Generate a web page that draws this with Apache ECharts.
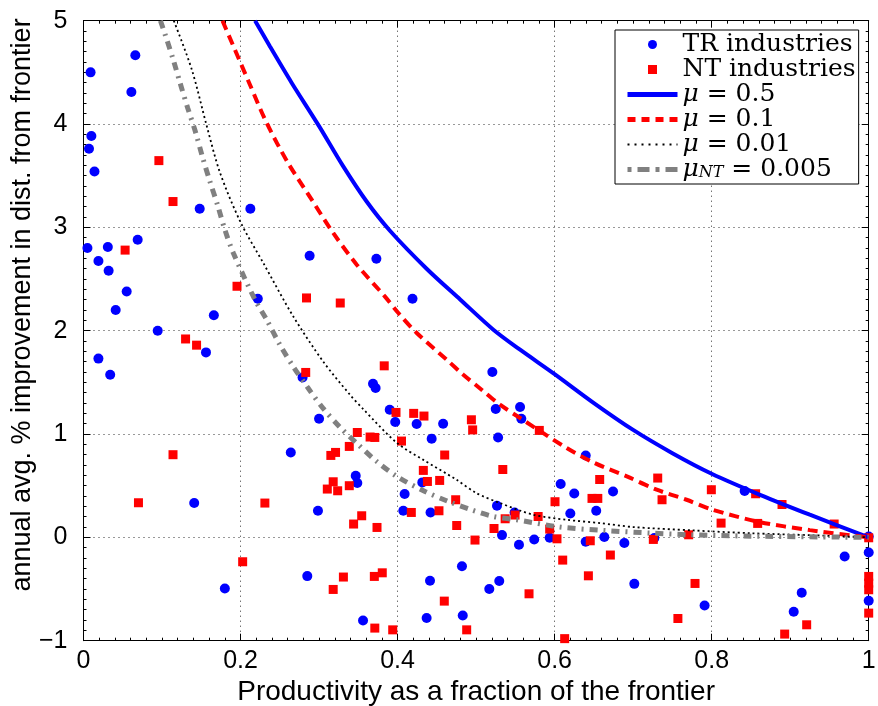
<!DOCTYPE html>
<html>
<head>
<meta charset="utf-8">
<script src="https://cdn.jsdelivr.net/npm/echarts@6/dist/echarts.min.js"></script>
<style>
  html, body { margin: 0; padding: 0; background: #fff; }
  #main { width: 878px; height: 706px; }
</style>
</head>
<body>
<div id="main"></div>
<script>
// TR industries (blue dots)
var trX = [0.009, 0.066, 0.061, 0.010, 0.007, 0.014, 0.148, 0.2125, 0.005, 0.031, 0.069, 0.019, 0.032, 0.055, 0.041, 0.166, 0.0945, 0.222, 0.019, 0.034,
           0.156, 0.141, 0.180, 0.288, 0.373, 0.419, 0.3687, 0.372, 0.279, 0.390, 0.397, 0.4243, 0.458, 0.4434, 0.300, 0.264, 0.3467, 0.3487, 0.4315, 0.409,
           0.2986, 0.4073, 0.442, 0.285, 0.4413, 0.482, 0.356, 0.437, 0.483, 0.5207, 0.525, 0.556, 0.5576, 0.528, 0.6396, 0.6077, 0.625, 0.6744, 0.62, 0.653,
           0.5266, 0.549, 0.533, 0.5546, 0.574, 0.5937, 0.6396, 0.6633, 0.6888, 0.727, 0.7015, 0.5168, 0.5295, 0.842, 1.0, 0.9694, 1.0, 1.0, 0.9147, 0.9045, 0.791];
var trY = [4.50, 4.665, 4.31, 3.885, 3.76, 3.54, 3.18, 3.18, 2.80, 2.81, 2.88, 2.675, 2.58, 2.38, 2.20, 2.15, 2.00, 2.31, 1.73, 1.574,
           1.79, 0.332, -0.495, 2.726, 2.697, 2.31, 1.487, 1.445, 1.548, 1.235, 1.116, 1.097, 1.10, 0.955, 1.148, 0.822, 0.596, 0.526, 0.532, 0.419,
           0.2575, 0.2575, 0.241, -0.375, -0.42, -0.28, -0.804, -0.78, -0.756, 1.60, 1.242, 1.261, 1.148, 0.967, 0.793, 0.516, 0.425, 0.444, 0.231, 0.2575,
           0.306, 0.241, 0.022, -0.072, -0.02, -0.004, -0.043, 0.003, -0.055, -0.007, -0.45, -0.50, -0.423, 0.448, 0.009, -0.185, -0.146, -0.614, -0.536, -0.72, -0.659];

// NT industries (red squares)
var ntX = [0.096, 0.114, 0.053, 0.1955, 0.130, 0.144, 0.114, 0.070, 0.231, 0.2027, 0.284, 0.327, 0.383, 0.283, 0.398, 0.4205, 0.4336, 0.494, 0.4956, 0.3487,
           0.365, 0.371, 0.405, 0.3385, 0.315, 0.321, 0.46, 0.318, 0.3105, 0.3237, 0.3385, 0.4328, 0.438, 0.4536, 0.474, 0.4175, 0.4527, 0.3543, 0.344, 0.3738,
           0.4753, 0.4986, 0.331, 0.3704, 0.3805, 0.318, 0.4595, 0.371, 0.3938, 0.488, 0.5805, 0.534, 0.6574, 0.7313, 0.7368, 0.6476, 0.655, 0.6005, 0.537, 0.5496,
           0.579, 0.5228, 0.5937, 0.603, 0.6454, 0.7257, 0.6103, 0.671, 0.643, 0.5674, 0.6128, 0.757, 0.7707, 0.7996, 0.812, 0.856, 0.8586, 0.8896, 0.956, 1.0,
           1.0, 1.0, 1.0, 0.921, 0.893, 0.7788, 1.0];
var ntY = [3.646, 3.25, 2.78, 2.43, 1.92, 1.86, 0.80, 0.335, 0.332, -0.236, 2.317, 2.268, 1.66, 1.596, 1.209, 1.20, 1.174, 1.138, 1.04, 1.015,
           0.971, 0.967, 0.932, 0.88, 0.793, 0.822, 0.797, 0.538, 0.4675, 0.451, 0.50, 0.648, 0.541, 0.551, 0.364, 0.241, 0.2575, 0.209, 0.129, 0.096,
           0.115, -0.026, -0.384, -0.378, -0.343, -0.504, -0.617, -0.878, -0.895, -0.895, 1.035, 0.657, 0.56, 0.574, 0.364, 0.377, 0.377, 0.345, 0.18, 0.216,
           0.202, 0.086, 0.08, -0.014, -0.033, -0.02, -0.22, -0.171, -0.372, -0.546, -0.98, -0.785, 0.025, 0.461, 0.138, 0.422, 0.135, 0.318, 0.129, -0.004,
           -0.378, -0.443, -0.507, -0.846, -0.936, -0.446, -0.733];

// model curves
var mu05X = [0.2185, 0.2375, 0.265, 0.30, 0.33, 0.3606, 0.390, 0.437, 0.48, 0.522, 0.556, 0.60, 0.65, 0.70, 0.75, 0.80, 0.8616, 0.925, 1.0];
var mu05Y = [5.0, 4.75, 4.40, 3.98, 3.60, 3.25, 2.97, 2.60, 2.30, 2.01, 1.816, 1.58, 1.30, 1.04, 0.815, 0.616, 0.412, 0.219, 0.0];

var mu01X = [0.177, 0.212, 0.2333, 0.26, 0.2906, 0.318, 0.348, 0.384, 0.401, 0.4244, 0.4626, 0.4837, 0.507, 0.5305, 0.556, 0.6154, 0.651, 0.692, 0.730, 0.768, 0.80, 0.86, 0.925, 1.0];
var mu01Y = [5.0, 4.38, 4.01, 3.63, 3.268, 2.946, 2.639, 2.33, 2.171, 1.978, 1.719, 1.574, 1.429, 1.284, 1.155, 0.864, 0.719, 0.59, 0.461, 0.364, 0.27, 0.15, 0.07, 0.0];

var mu001X = [0.115, 0.1378, 0.157, 0.1738, 0.20, 0.229, 0.267, 0.3054, 0.3394, 0.3564, 0.3989, 0.4328, 0.475, 0.50, 0.5305, 0.573, 0.6154, 0.658, 0.70, 0.7766, 0.85, 0.93, 1.0];
var mu001Y = [5.0, 4.53, 3.98, 3.53, 3.05, 2.655, 2.14, 1.70, 1.38, 1.24, 0.915, 0.75, 0.558, 0.43, 0.332, 0.219, 0.17, 0.138, 0.10, 0.067, 0.04, 0.02, 0.0];

var muNTX = [0.098, 0.1038, 0.1144, 0.1229, 0.1327, 0.143, 0.1513, 0.161, 0.171, 0.180, 0.1908, 0.2184, 0.2333, 0.25, 0.267, 0.286, 0.305, 0.3267, 0.35, 0.3734,
             0.399, 0.435, 0.4646, 0.494, 0.522, 0.5517, 0.607, 0.662, 0.7215, 0.7724, 0.85, 1.0];
var muNTY = [5.0, 4.87, 4.62, 4.40, 4.156, 3.914, 3.687, 3.445, 3.21, 2.978, 2.752, 2.30, 2.106, 1.865, 1.654, 1.445, 1.25, 1.066, 0.896, 0.735,
             0.59, 0.444, 0.348, 0.267, 0.202, 0.17, 0.10, 0.067, 0.042, 0.025, 0.012, 0.0];

function zip(xs, ys) {
    var out = [];
    for (var i = 0; i < xs.length; i++) {
        out.push([xs[i], ys[i]]);
    }
    return out;
}

var sansFont = 'Liberation Sans';
var serifFont = 'DejaVu Serif';

var myChart = echarts.init(document.getElementById('main'), null, { renderer: 'canvas' });

var gridLine = { show: true, lineStyle: { color: '#333', width: 1, type: [1, 4] } };
var frameLine = { show: true, onZero: false, lineStyle: { color: '#000', width: 1 } };
var majorTick = { show: true, inside: true, length: 7, lineStyle: { color: '#000' } };
var smallTick = { show: true, splitNumber: 10, length: 3, lineStyle: { color: '#000' } };

var redDash = [10, 6];
var blackDot = [2, 3];
var grayDashDot = [8, 6, 2, 6];

var option = {
    backgroundColor: '#fff',
    animation: false,
    grid: { left: 83.5, right: 9.3, top: 20.7, bottom: 65.3, containLabel: false, outerBoundsMode: 'none' },
    graphic: [{
        type: 'text',
        x: 23,
        y: 305,
        rotation: Math.PI / 2,
        style: {
            text: 'annual avg. % improvement in dist. from frontier',
            fontFamily: sansFont,
            fontSize: 27,
            fill: '#000',
            align: 'center',
            verticalAlign: 'middle'
        }
    }],
    legend: {
        orient: 'vertical',
        left: 615,
        top: 30,
        padding: [2, 3, 2, 10],
        itemGap: 0,
        itemWidth: 50,
        itemHeight: 9,
        backgroundColor: '#fff',
        borderColor: '#000',
        borderWidth: 1,
        borderRadius: 0,
        data: [
            { name: 'TR industries', icon: 'circle' },
            { name: 'NT industries', icon: 'path://M0 0H10V10H0Z', symbolKeepAspect: true },
            { name: 'mu05', itemStyle: { opacity: 0 }, lineStyle: { width: 5, type: 'solid' } },
            { name: 'mu01', itemStyle: { opacity: 0 }, lineStyle: { width: 5, type: [8, 6] } },
            { name: 'mu001', itemStyle: { opacity: 0 }, lineStyle: { width: 2, type: [2, 5] } },
            { name: 'muNT', itemStyle: { opacity: 0 }, lineStyle: { width: 5, type: [4, 6, 12, 6] } }
        ],
        formatter: function (name) {
            if (name == 'mu05') return '{i|μ} = 0.5';
            if (name == 'mu01') return '{i|μ} = 0.1';
            if (name == 'mu001') return '{i|μ} = 0.01';
            if (name == 'muNT') return '{i|μ}{s|NT} = 0.005';
            return name;
        },
        textStyle: {
            fontFamily: serifFont,
            fontSize: 25,
            lineHeight: 23.5,
            color: '#000',
            rich: {
                i: { fontFamily: serifFont, fontSize: 25, fontStyle: 'italic', color: '#000', lineHeight: 23.5 },
                s: { fontFamily: serifFont, fontSize: 16, fontStyle: 'italic', color: '#000', verticalAlign: 'bottom', lineHeight: 16 }
            }
        }
    },
    xAxis: [{
        type: 'value',
        min: 0,
        max: 1,
        interval: 0.2,
        name: 'Productivity as a fraction of the frontier',
        nameLocation: 'middle',
        nameGap: 23,
        nameTextStyle: { fontFamily: sansFont, fontSize: 28, color: '#000' },
        axisLine: frameLine,
        axisTick: majorTick,
        minorTick: smallTick,
        axisLabel: { fontFamily: sansFont, fontSize: 25, color: '#000', margin: 8 },
        splitLine: gridLine
    }, {
        type: 'value',
        position: 'top',
        min: 0,
        max: 1,
        interval: 0.2,
        axisLine: frameLine,
        axisTick: majorTick,
        minorTick: smallTick,
        axisLabel: { show: false },
        splitLine: { show: false }
    }],
    yAxis: [{
        type: 'value',
        min: -1,
        max: 5,
        interval: 1,
        axisLine: frameLine,
        axisTick: majorTick,
        minorTick: smallTick,
        axisLabel: {
            fontFamily: sansFont, fontSize: 25, color: '#000', margin: 16,
            formatter: function (v) { return v < 0 ? '\u2212' + Math.abs(v) : String(v); }
        },
        splitLine: gridLine
    }, {
        type: 'value',
        position: 'right',
        min: -1,
        max: 5,
        interval: 1,
        axisLine: frameLine,
        axisTick: majorTick,
        minorTick: smallTick,
        axisLabel: { show: false },
        splitLine: { show: false }
    }],
    series: [{
        name: 'TR industries',
        type: 'scatter',
        symbol: 'circle',
        symbolSize: 10,
        clip: false,
        itemStyle: { color: '#0000ff', opacity: 1 },
        data: zip(trX, trY)
    }, {
        name: 'NT industries',
        type: 'scatter',
        symbol: 'rect',
        symbolSize: 9,
        symbolKeepAspect: true,
        clip: false,
        itemStyle: { color: '#ff0000', opacity: 1 },
        data: zip(ntX, ntY)
    }, {
        name: 'mu05',
        type: 'line',
        symbol: 'none',
        smooth: 0.3,
        itemStyle: { color: '#0000ff' },
        lineStyle: { color: '#0000ff', width: 4, type: 'solid' },
        data: zip(mu05X, mu05Y)
    }, {
        name: 'mu01',
        type: 'line',
        symbol: 'none',
        smooth: 0.3,
        itemStyle: { color: '#ff0000' },
        lineStyle: { color: '#ff0000', width: 4, type: redDash },
        data: zip(mu01X, mu01Y)
    }, {
        name: 'mu001',
        type: 'line',
        symbol: 'none',
        smooth: 0.3,
        itemStyle: { color: '#000' },
        lineStyle: { color: '#000', width: 1.8, type: blackDot },
        data: zip(mu001X, mu001Y)
    }, {
        name: 'muNT',
        type: 'line',
        symbol: 'none',
        smooth: 0.3,
        itemStyle: { color: '#808080' },
        lineStyle: { color: '#808080', width: 5, type: grayDashDot },
        data: zip(muNTX, muNTY)
    }]
};

myChart.setOption(option);
</script>
</body>
</html>
